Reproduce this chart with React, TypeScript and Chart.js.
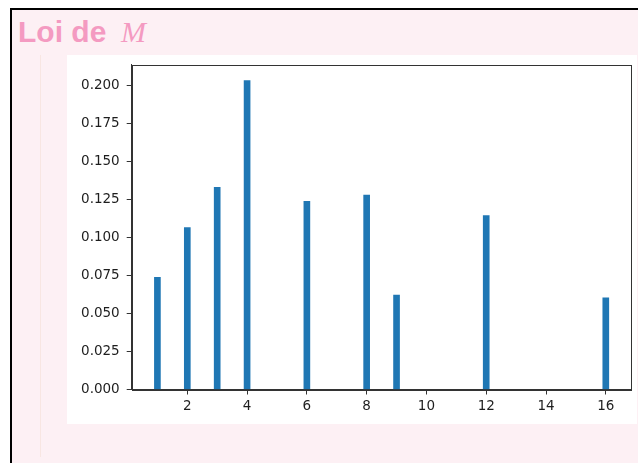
import React, { useEffect, useRef } from "react";
import { Chart, registerables } from "chart.js";

Chart.register(...registerables);

// Values of M (product) and their observed frequencies
const mValues = [1, 2, 3, 4, 6, 8, 9, 12, 16];
const frequencies = [0.0738, 0.1064, 0.133, 0.2031, 0.1238, 0.1279, 0.0621, 0.1143, 0.0602];
const xTickValues = [2, 4, 6, 8, 10, 12, 14, 16];
const yTickValues = [0, 0.025, 0.05, 0.075, 0.1, 0.125, 0.15, 0.175, 0.2];
const xLimits = [0.14, 16.86];
const yLimits = [0, 0.2137];

const titleText = "Loi de ";
const titleMath = "M";

const frameBorder = {
  id: "frameBorder",
  afterDraw(chart: any) {
    const { ctx, chartArea } = chart;
    ctx.save();
    ctx.strokeStyle = "#333333";
    ctx.lineWidth = 1;
    ctx.strokeRect(
      Math.round(chartArea.left) + 0.5,
      Math.round(chartArea.top) + 0.5,
      Math.round(chartArea.right - chartArea.left) - 1,
      Math.round(chartArea.bottom - chartArea.top)
    );
    ctx.restore();
  },
};

function BarChart() {
  const ref = useRef<HTMLCanvasElement | null>(null);
  useEffect(() => {
    if (!ref.current) return;
    const tickFont = { family: "DejaVu Sans", size: 13.5 };
    const chart = new Chart(ref.current, {
      type: "bar",
      data: {
        datasets: [
          {
            data: mValues.map((x, i) => ({ x, y: frequencies[i] })),
            backgroundColor: "#1f77b4",
            borderWidth: 0,
            barThickness: 6,
          },
        ],
      },
      options: {
        animation: false,
        responsive: true,
        maintainAspectRatio: false,
        layout: { padding: { top: 9.5, right: 5.5, left: 0, bottom: 0 } },
        plugins: { legend: { display: false }, tooltip: { enabled: false } },
        scales: {
          x: {
            type: "linear",
            min: xLimits[0],
            max: xLimits[1],
            offset: false,
            afterBuildTicks: (s: any) => {
              s.ticks = xTickValues.map((v) => ({ value: v }));
            },
            afterFit: (s: any) => {
              s.height = 34.5;
              s.paddingLeft = 0;
              s.paddingRight = 0;
            },
            grid: {
              display: true,
              offset: false,
              drawOnChartArea: false,
              drawTicks: true,
              tickLength: 5,
              tickColor: "#333333",
              tickWidth: 1,
            },
            border: { display: true, color: "#333333", width: 1 },
            ticks: {
              color: "#1e1e1e",
              font: tickFont,
              padding: 4,
              maxRotation: 0,
              autoSkip: false,
              callback: (v: any) => String(v),
            },
          },
          y: {
            type: "linear",
            min: yLimits[0],
            max: yLimits[1],
            afterBuildTicks: (s: any) => {
              s.ticks = yTickValues.map((v) => ({ value: v }));
            },
            afterFit: (s: any) => {
              s.width = 64.7;
              s.paddingTop = 0;
              s.paddingBottom = 0;
            },
            grid: {
              display: true,
              drawOnChartArea: false,
              drawTicks: true,
              tickLength: 5,
              tickColor: "#333333",
              tickWidth: 1,
            },
            border: { display: true, color: "#333333", width: 1 },
            ticks: {
              color: "#1e1e1e",
              font: tickFont,
              padding: 7,
              autoSkip: false,
              callback: (v: any) => Number(v).toFixed(3),
            },
          },
        },
      },
      plugins: [frameBorder],
    } as any);
    return () => chart.destroy();
  }, []);
  return <canvas ref={ref} />;
}

export default function App() {
  return (
    <div
      style={{
        position: "absolute",
        left: 0,
        top: 0,
        width: 638,
        height: 463,
        overflow: "hidden",
        background: "#ffffff",
      }}
    >
      <div
        style={{
          position: "absolute",
          left: 10,
          top: 8,
          width: 660,
          height: 480,
          borderTop: "2px solid #000",
          borderLeft: "2px solid #000",
          background: "#fdf0f4",
        }}
      />
      <div
        style={{
          position: "absolute",
          left: 40,
          top: 55,
          width: 1,
          height: 402,
          background: "#f8e6e2",
        }}
      />
      <div
        style={{
          position: "absolute",
          left: 18,
          top: 17,
          height: 30,
          lineHeight: "30px",
          fontSize: 30,
          fontFamily: "'Liberation Sans', Arial, sans-serif",
          fontWeight: "bold",
          color: "#f49ac1",
          whiteSpace: "pre",
        }}
      >
        {titleText}
      </div>
      <div
        style={{
          position: "absolute",
          left: 121,
          top: 17,
          height: 30,
          lineHeight: "30px",
          fontSize: 30,
          fontFamily: "'Liberation Serif', 'DejaVu Serif', serif",
          fontStyle: "italic",
          color: "#f49ac1",
        }}
      >
        {titleMath}
      </div>
      <div
        style={{
          position: "absolute",
          left: 67,
          top: 55,
          width: 570,
          height: 369,
          background: "#ffffff",
        }}
      >
        <BarChart />
      </div>
    </div>
  );
}
